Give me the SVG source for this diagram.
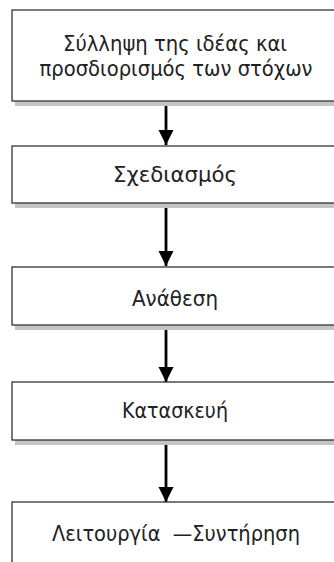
<svg xmlns="http://www.w3.org/2000/svg" width="334" height="562" viewBox="0 0 334 562">
<style>
.box{fill:#fff;stroke:#333;stroke-width:1.3}
.sh{fill:#c4c4c4}
.t{font-family:"DejaVu Sans","Liberation Sans",sans-serif;font-size:20.5px;fill:#222;text-anchor:middle}
.c{stroke:#000;stroke-width:2.8;fill:none}
</style>
<defs>
<marker id="ah" viewBox="0 0 10 10" refX="10" refY="5" markerWidth="5.4" markerHeight="6" markerUnits="strokeWidth" orient="auto">
<path d="M0,0 L10,5 L0,10 Z" fill="#000"/>
</marker>
</defs>
<g id="connectors">
<line class="c" x1="166" y1="102" x2="166" y2="145" marker-end="url(#ah)"/>
<line class="c" x1="166" y1="204" x2="166" y2="266" marker-end="url(#ah)"/>
<line class="c" x1="166" y1="326" x2="166" y2="382" marker-end="url(#ah)"/>
<line class="c" x1="166" y1="441" x2="166" y2="502" marker-end="url(#ah)"/>
</g>
<g id="n1">
<rect class="sh" x="15" y="101" width="330" height="5"/>
<rect class="box" x="12" y="10" width="330" height="91"/>
<text class="t" x="175" y="51" textLength="224" lengthAdjust="spacingAndGlyphs">Σύλληψη της ιδέας και</text>
<text class="t" x="176" y="76" textLength="273" lengthAdjust="spacingAndGlyphs">προσδιορισμός των στόχων</text>
</g>
<g id="n2">
<rect class="sh" x="15" y="203" width="330" height="5"/>
<rect class="box" x="12" y="146" width="330" height="57"/>
<text class="t" x="175" y="182" textLength="124" lengthAdjust="spacingAndGlyphs">Σχεδιασμός</text>
</g>
<g id="n3">
<rect class="sh" x="15" y="325" width="330" height="5"/>
<rect class="box" x="12" y="267" width="330" height="58"/>
<text class="t" x="175" y="306" textLength="86" lengthAdjust="spacingAndGlyphs">Ανάθεση</text>
</g>
<g id="n4">
<rect class="sh" x="15" y="440" width="330" height="5"/>
<rect class="box" x="12" y="382" width="330" height="58"/>
<text class="t" x="175" y="418" textLength="106" lengthAdjust="spacingAndGlyphs">Κατασκευή</text>
</g>
<g id="n5">
<rect class="box" x="12" y="502" width="330" height="70"/>
<text class="t" x="176" y="541" textLength="248" lengthAdjust="spacingAndGlyphs" xml:space="preserve">Λειτουργία  —Συντήρηση</text>
</g>
</svg>
